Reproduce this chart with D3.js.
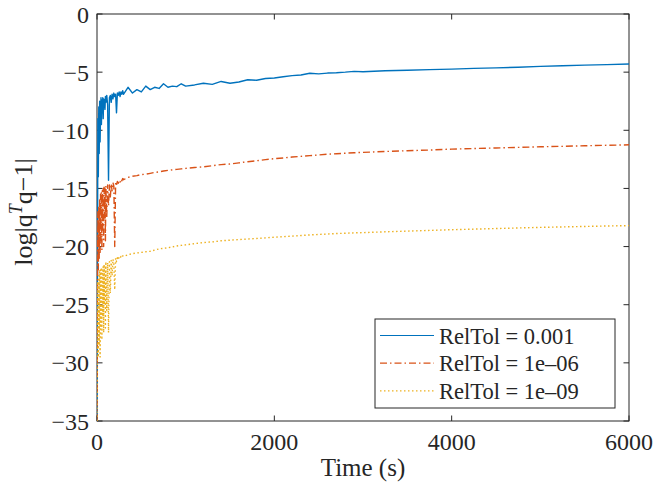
<!DOCTYPE html>
<html><head><meta charset="utf-8">
<script src="https://cdn.jsdelivr.net/npm/d3@7"></script>
<style>body{margin:0;background:#fff}svg{display:block}text{font-family:"Liberation Serif","Times New Roman",serif;fill:#262626}</style>
</head><body><svg id="c" width="653" height="487"></svg>
<script>
const times = [0,5,10,15,20,25,30,35,40,45,50,55,60,65,70,75,80,85,90,95,100,
  110,120,130,140,150,160,170,180,190,200,210,220,230,240,250,260,270,280,290,300,
  350,400,450,500,550,600,650,700,750,800,850,900,950,1000,
  1100,1200,1300,1400,1500,1600,1700,1800,1900,2000,2100,2200,2300,2400,2500,2600,2700,2800,2900,3000,
  3250,3500,3750,4000,4250,4500,4750,5000,5250,5500,5750,6000];
const relTol3 = [-35,-22,-9,-14,-8,-12,-7.5,-11,-8.5,-7.2,-9.5,-7.4,-8.5,-7.2,-9,-7.3,-8,-7.4,-8.2,-7.1,-7.6,
  -7.0,-7.8,-14.3,-7.2,-7.0,-7.6,-6.9,-7.3,-6.8,-7.1,-6.9,-8.5,-6.8,-7.0,-6.7,-7.1,-6.7,-6.9,-6.6,-6.9,
  -6.3,-6.8,-6.5,-6.7,-6.2,-6.5,-6.3,-6.4,-6.0,-6.3,-6.2,-6.25,-6.0,-6.2,
  -6.1,-5.95,-6.05,-5.8,-5.95,-5.85,-5.65,-5.7,-5.55,-5.5,-5.4,-5.3,-5.25,-5.1,-5.15,-5.08,-5.05,-5.0,-4.93,-4.97,
  -4.88,-4.84,-4.78,-4.74,-4.68,-4.63,-4.58,-4.5,-4.45,-4.4,-4.35,-4.3];
const relTol6 = [-35,-24,-17,-22,-16.5,-21,-16,-20.5,-15.5,-19.5,-15.3,-20.3,-15.2,-18.5,-15,-20,-14.9,-17.5,-15,-19.5,-14.8,
  -17.5,-14.7,-16.5,-14.7,-15.8,-14.6,-15.2,-14.5,-14.8,-20,-14.5,-14.7,-14.4,-14.55,-14.3,-14.45,-14.2,-14.35,-14.15,-14.25,
  -14.05,-13.95,-13.9,-13.8,-13.78,-13.7,-13.62,-13.58,-13.5,-13.45,-13.4,-13.36,-13.32,-13.28,
  -13.2,-13.15,-13.05,-12.95,-12.9,-12.8,-12.7,-12.62,-12.52,-12.44,-12.38,-12.3,-12.24,-12.18,-12.12,-12.06,-12.02,-11.97,-11.93,-11.9,
  -11.82,-11.76,-11.7,-11.62,-11.57,-11.52,-11.47,-11.42,-11.38,-11.33,-11.29,-11.25];
const relTol9 = [-35,-29,-23,-29.5,-22.5,-28.5,-22,-29.5,-22,-27,-21.8,-28,-22,-26,-21.6,-27.4,-21.5,-25,-21.8,-27,-21.3,
  -25.5,-21.4,-27.4,-21.3,-24,-21.2,-22.5,-21.1,-21.5,-23.7,-21.0,-21.3,-20.95,-21.1,-20.9,-21.0,-20.85,-20.95,-20.8,-20.85,
  -20.7,-20.6,-20.55,-20.5,-20.45,-20.4,-20.3,-20.2,-20.15,-20.1,-20.03,-19.95,-19.9,-19.85,
  -19.75,-19.65,-19.6,-19.5,-19.45,-19.4,-19.35,-19.3,-19.25,-19.2,-19.15,-19.1,-19.05,-19.0,-18.96,-18.92,-18.88,-18.85,-18.82,-18.8,
  -18.73,-18.67,-18.61,-18.55,-18.5,-18.45,-18.4,-18.35,-18.31,-18.27,-18.23,-18.2];
const seriesNames = ["RelTol = 0.001","RelTol = 1e\u201306","RelTol = 1e\u201309"];
const colors = ["#0072BD","#D95319","#EDB120"];
const dashes = [null,"7,3,1.5,3","1.5,2.5"];
const xTicks = [0,2000,4000,6000];
const yTicks = [0,-5,-10,-15,-20,-25,-30,-35];

const svg = d3.select("#c");
const L=97,T=14,R=629,B=421;
const x = d3.scaleLinear().domain([0,6000]).range([L,R]);
const y = d3.scaleLinear().domain([-35,0]).range([B,T]);
const ax = "#262626";

svg.append("clipPath").attr("id","cp").append("rect").attr("x",L).attr("y",T).attr("width",R-L).attr("height",B-T);

// box and ticks
const g = svg.append("g");
g.append("rect").attr("x",L).attr("y",T).attr("width",R-L).attr("height",B-T).attr("fill","none").attr("stroke",ax).attr("stroke-width",1);
xTicks.forEach(t=>{
  g.append("line").attr("x1",x(t)).attr("x2",x(t)).attr("y1",B).attr("y2",B-5.5).attr("stroke",ax);
  g.append("line").attr("x1",x(t)).attr("x2",x(t)).attr("y1",T).attr("y2",T+5.5).attr("stroke",ax);
  g.append("text").attr("x",x(t)).attr("y",B+29).attr("text-anchor","middle").attr("font-size",24).text(t);
});
yTicks.forEach(t=>{
  g.append("line").attr("x1",L).attr("x2",L+5.5).attr("y1",y(t)).attr("y2",y(t)).attr("stroke",ax);
  g.append("line").attr("x1",R).attr("x2",R-5.5).attr("y1",y(t)).attr("y2",y(t)).attr("stroke",ax);
  g.append("text").attr("x",L-8).attr("y",y(t)+8.5).attr("text-anchor","end").attr("font-size",24).text(t<0?"\u2212"+Math.abs(t):t);
});

// data
const series = [relTol3,relTol6,relTol9];
const line = d3.line().x((d,i)=>x(times[i])).y(d=>y(d));
const dg = svg.append("g").attr("clip-path","url(#cp)");
series.forEach((s,k)=>{
  const p = dg.append("path").datum(s).attr("d",line).attr("fill","none").attr("stroke",colors[k]).attr("stroke-width",1.4).attr("stroke-linejoin","round");
  if(dashes[k]) p.attr("stroke-dasharray",dashes[k]);
});

// labels
svg.append("text").attr("x",(L+R)/2).attr("y",476).attr("text-anchor","middle").attr("font-size",25).text("Time (s)");
const yl = svg.append("text").attr("transform","translate(32,212) rotate(-90)").attr("text-anchor","middle").attr("font-size",26);
yl.append("tspan").text("log|q");
yl.append("tspan").attr("dy",-10).attr("font-size",18).attr("font-style","italic").text("T");
yl.append("tspan").attr("dy",10).text("q\u22121|");

// legend
const lg = svg.append("g");
lg.append("rect").attr("x",375).attr("y",319).attr("width",240).attr("height",89).attr("fill","#fff").attr("stroke",ax).attr("stroke-width",1);
seriesNames.forEach((n,k)=>{
  const yy = 335.5 + k*27.7;
  const l = lg.append("line").attr("x1",380).attr("x2",434).attr("y1",yy).attr("y2",yy).attr("stroke",colors[k]).attr("stroke-width",1.2);
  if(dashes[k]) l.attr("stroke-dasharray",dashes[k]);
  lg.append("text").attr("x",439).attr("y",yy+8).attr("font-size",22.5).text(n);
});
</script></body></html>
